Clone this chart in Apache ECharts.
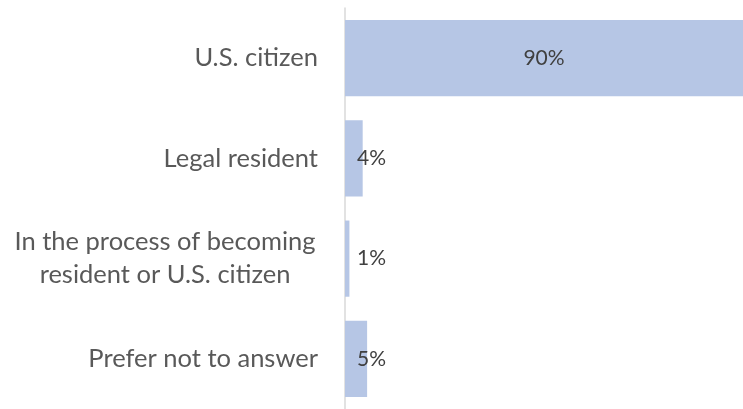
<!DOCTYPE html>
<html>
<head>
<meta charset="utf-8">
<script src="https://cdn.jsdelivr.net/npm/echarts@6/dist/echarts.min.js"></script>
<style>
  html, body { margin: 0; padding: 0; background: #fff; }
  #chart { width: 743px; height: 409px; }
</style>
</head>
<body>
<div id="chart"></div>
<script>
  // status categories, top to bottom
  let categories = ['U.S. citizen', 'Legal resident', 'In the process of becoming\nresident or U.S. citizen', 'Prefer not to answer']
  let values = [90, 4, 1, 5]

  let chart = echarts.init(document.getElementById('chart'))

  let barData = values.map(function (v) {
    // the wide bar gets its label centred, the thin ones sit near the axis
    if (v > 20) {
      return {value: v, label: {position: 'inside'}}
    }
    return {value: v, label: {position: 'insideLeft', distance: 12}}
  })

  let option = {
    animation: false,
    grid: {
      left: 345,
      top: 8,
      width: 405,
      height: 402,
      containLabel: false
    },
    xAxis: {
      type: 'value',
      min: 0,
      max: 90,
      show: false
    },
    yAxis: {
      type: 'category',
      inverse: true,
      data: categories,
      axisLine: {
        show: true,
        lineStyle: {color: '#d9d9d9', width: 1.5}
      },
      axisTick: {show: false},
      axisLabel: {
        margin: 27,
        color: '#595959',
        fontFamily: 'Lato',
        fontSize: 25.5,
        align: 'right',
        formatter: function (value) {
          if (value.indexOf('\n') >= 0) {
            return value.split('\n').map(function (s) {
              return '{c|' + s + '}'
            }).join('\n')
          }
          return value
        },
        rich: {
          c: {
            width: 306,
            align: 'center',
            color: '#595959',
            fontFamily: 'Lato',
            fontSize: 25.5,
            lineHeight: 33
          }
        }
      }
    },
    series: [{
      type: 'bar',
      data: barData,
      barWidth: '76%',
      itemStyle: {color: '#b6c6e5'},
      label: {
        show: true,
        color: '#404040',
        fontFamily: 'Lato',
        fontSize: 21,
        formatter: '{c}%'
      }
    }]
  }
  chart.setOption(option)
</script>
</body>
</html>
